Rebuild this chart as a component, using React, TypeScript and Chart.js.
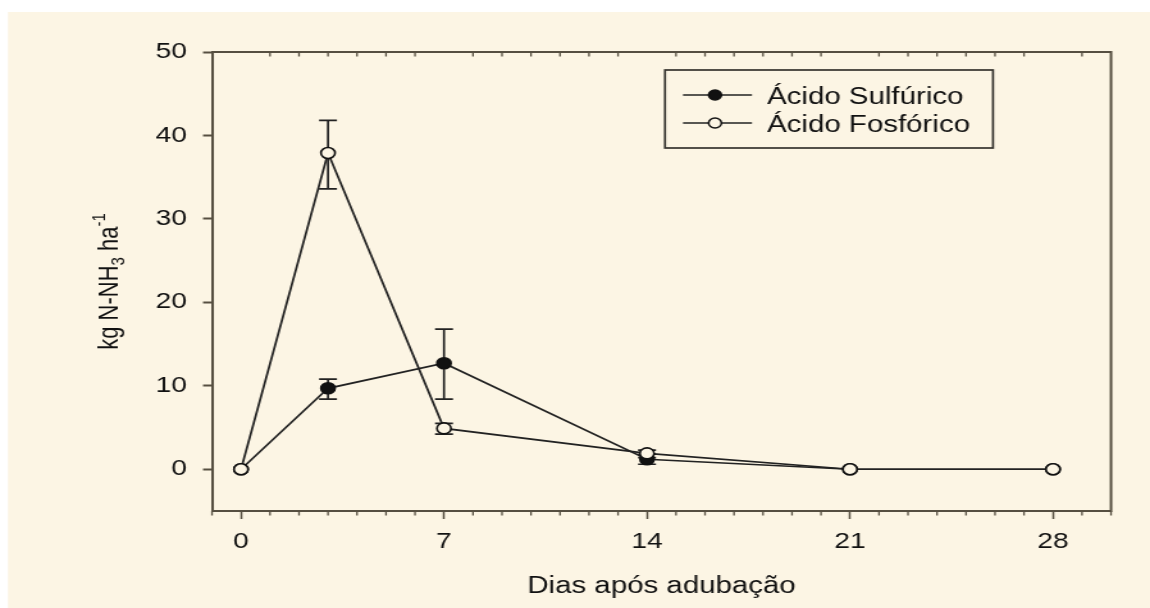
import React, { useEffect, useRef } from "react";
import { Chart, registerables } from "chart.js";

Chart.register(...registerables);

// ---- data ----
const days = [0, 3, 7, 14, 21, 28];
const seriesLabels = ["Ácido Sulfúrico", "Ácido Fosfórico"];
const sulfurico = [0, 9.7, 12.7, 1.2, 0, 0];
const sulfuricoLow = [0, 8.4, 8.4, 0.6, 0, 0];
const sulfuricoHigh = [0, 10.8, 16.8, 1.8, 0, 0];
const fosforico = [0, 37.9, 4.9, 1.9, 0, 0];
const fosforicoLow = [0, 33.6, 4.2, 1.4, 0, 0];
const fosforicoHigh = [0, 41.8, 5.5, 2.3, 0, 0];
const xTicks = [0, 7, 14, 21, 28];
const yTicks = [0, 10, 20, 30, 40, 50];
const xTitle = "Dias após adubação";

// ---- layout / style ----
const W = 898;
const H = 608;
const S = 1150 / W; // the reference is horizontally stretched
const BG = "#fcf5e4";
const FRAME = "#564f41";
const LINE = "#222222";
const TEXT = "#111111";
const FONT = "'Liberation Sans', Arial, sans-serif";

const errLow = [sulfuricoLow, fosforicoLow];
const errHigh = [sulfuricoHigh, fosforicoHigh];

const decor = {
  id: "decor",
  beforeDraw(chart: any) {
    const { ctx } = chart;
    ctx.save();
    ctx.fillStyle = "#ffffff";
    ctx.fillRect(0, 0, W, H);
    ctx.fillStyle = BG;
    ctx.fillRect(8 / S, 12, W, H);
    ctx.restore();
  },
  beforeDatasetsDraw(chart: any) {
    const { ctx } = chart;
    const xs = chart.scales.x;
    const ys = chart.scales.y;
    ctx.save();
    ctx.strokeStyle = LINE;
    ctx.lineWidth = 1.7;
    for (let s = 0; s < 2; s++) {
      for (let j = 0; j < days.length; j++) {
        const lo = errLow[s][j];
        const hi = errHigh[s][j];
        if (hi <= lo) continue;
        const x = xs.getPixelForValue(days[j]);
        const y1 = ys.getPixelForValue(hi);
        const y2 = ys.getPixelForValue(lo);
        const cw = 7;
        ctx.beginPath();
        ctx.moveTo(x, y1);
        ctx.lineTo(x, y2);
        ctx.moveTo(x - cw, y1);
        ctx.lineTo(x + cw, y1);
        ctx.moveTo(x - cw, y2);
        ctx.lineTo(x + cw, y2);
        ctx.stroke();
      }
    }
    ctx.restore();
  },
  afterDraw(chart: any) {
    const { ctx, chartArea } = chart;
    const xs = chart.scales.x;
    const { left, right, top, bottom } = chartArea;
    ctx.save();
    // top & right frame
    ctx.strokeStyle = FRAME;
    ctx.lineWidth = 2;
    ctx.beginPath();
    ctx.moveTo(left, top);
    ctx.lineTo(right, top);
    ctx.moveTo(right, top - 1);
    ctx.lineTo(right, bottom + 1);
    ctx.stroke();
    // minor ticks
    ctx.lineWidth = 1.3;
    ctx.beginPath();
    for (let d = Math.ceil(xs.min); d <= xs.max; d++) {
      if (d % 7 === 0) continue;
      const x = xs.getPixelForValue(d);
      ctx.moveTo(x, bottom);
      ctx.lineTo(x, bottom + 4.5);
      if (d > xs.min && d < xs.max) {
        ctx.moveTo(x, top);
        ctx.lineTo(x, top + 4.5);
      }
    }
    ctx.stroke();

    // x title
    ctx.fillStyle = TEXT;
    ctx.font = `23px ${FONT}`;
    ctx.textAlign = "center";
    ctx.textBaseline = "alphabetic";
    ctx.fillText(xTitle, (left + right) / 2, 593);

    // y title with sub/superscripts
    ctx.save();
    ctx.translate(92, (top + bottom) / 2);
    ctx.rotate(-Math.PI / 2);
    const parts = [
      { t: "kg N-NH", size: 22, dy: 0 },
      { t: "3", size: 15, dy: 5 },
      { t: " ha", size: 22, dy: 0 },
      { t: "-1", size: 15, dy: -10 },
    ];
    let total = 0;
    for (const p of parts) {
      ctx.font = `${p.size}px ${FONT}`;
      total += ctx.measureText(p.t).width;
    }
    let cx = -total / 2;
    ctx.textAlign = "left";
    for (const p of parts) {
      ctx.font = `${p.size}px ${FONT}`;
      ctx.fillText(p.t, cx, p.dy);
      cx += ctx.measureText(p.t).width;
    }
    ctx.restore();

    // legend
    const bx = 665 / S;
    const bw = (993 - 665) / S;
    const by = 70;
    const bh = 78;
    ctx.fillStyle = BG;
    ctx.fillRect(bx, by, bw, bh);
    ctx.strokeStyle = "#35332e";
    ctx.lineWidth = 1.7;
    ctx.strokeRect(bx, by, bw, bh);
    const rows = [95, 123];
    const ds = chart.data.datasets;
    const order = [0, 1];
    order.forEach((di, r) => {
      const d = ds[di];
      const y = rows[r];
      ctx.strokeStyle = d.borderColor;
      ctx.lineWidth = 1.7;
      ctx.beginPath();
      ctx.moveTo(683 / S, y);
      ctx.lineTo(752 / S, y);
      ctx.stroke();
      ctx.beginPath();
      ctx.arc(715 / S, y, 5, 0, Math.PI * 2);
      ctx.fillStyle = d.pointBackgroundColor;
      ctx.fill();
      ctx.strokeStyle = d.pointBorderColor;
      ctx.lineWidth = 1.5;
      ctx.stroke();
      ctx.fillStyle = TEXT;
      ctx.font = `23px ${FONT}`;
      ctx.textAlign = "left";
      ctx.textBaseline = "alphabetic";
      ctx.fillText(d.label, 767 / S, y + 9);
    });
    ctx.restore();
  },
};

export default function App() {
  const ref = useRef<HTMLCanvasElement>(null);
  useEffect(() => {
    document.body.style.margin = "0";
    const canvas = ref.current!;
    const chart = new Chart(canvas, {
      type: "line",
      data: {
        datasets: [
          {
            label: seriesLabels[0],
            data: days.map((d, i) => ({ x: d, y: sulfurico[i] })),
            borderColor: LINE,
            borderWidth: 1.7,
            pointRadius: 5.5,
            pointBackgroundColor: "#111111",
            pointBorderColor: "#111111",
            pointBorderWidth: 1.6,
            tension: 0,
            order: 1,
          },
          {
            label: seriesLabels[1],
            data: days.map((d, i) => ({ x: d, y: fosforico[i] })),
            borderColor: LINE,
            borderWidth: 1.7,
            pointRadius: 5.5,
            pointBackgroundColor: BG,
            pointBorderColor: "#111111",
            pointBorderWidth: 1.6,
            tension: 0,
            order: 0,
          },
        ],
      },
      options: {
        responsive: false,
        animation: false,
        devicePixelRatio: 1,
        layout: { padding: { top: 52, right: W - 1111 / S, bottom: 0, left: 0 } },
        plugins: { legend: { display: false }, tooltip: { enabled: false } },
        scales: {
          x: {
            type: "linear",
            min: -1,
            max: 30,
            afterBuildTicks: (s: any) => {
              s.ticks = xTicks.map((v) => ({ value: v }));
            },
            afterFit: (s: any) => {
              s.height = H - 511;
            },
            ticks: {
              autoSkip: false,
              maxRotation: 0,
              padding: 10,
              color: TEXT,
              font: { family: FONT, size: 22 },
            },
            grid: {
              drawOnChartArea: false,
              drawTicks: true,
              tickLength: 8,
              tickColor: FRAME,
              tickWidth: 1.5,
            },
            border: { display: true, color: FRAME, width: 2 },
          },
          y: {
            type: "linear",
            min: -5,
            max: 50,
            afterBuildTicks: (s: any) => {
              s.ticks = yTicks.map((v) => ({ value: v }));
            },
            afterFit: (s: any) => {
              s.width = 212 / S;
            },
            ticks: {
              padding: 12.5,
              color: TEXT,
              font: { family: FONT, size: 22 },
            },
            grid: {
              drawOnChartArea: false,
              drawTicks: true,
              tickLength: 7,
              tickColor: FRAME,
              tickWidth: 2,
            },
            border: { display: true, color: FRAME, width: 2 },
          },
        },
      },
      plugins: [decor],
    } as any);
    return () => chart.destroy();
  }, []);
  return (
    <div
      style={{
        position: "absolute",
        left: 0,
        top: 0,
        width: 1150,
        height: 608,
        overflow: "hidden",
        background: "#ffffff",
      }}
    >
      <canvas
        ref={ref}
        width={W}
        height={H}
        style={{
          width: W,
          height: H,
          display: "block",
          transform: `scaleX(${S})`,
          transformOrigin: "0 0",
        }}
      />
    </div>
  );
}
